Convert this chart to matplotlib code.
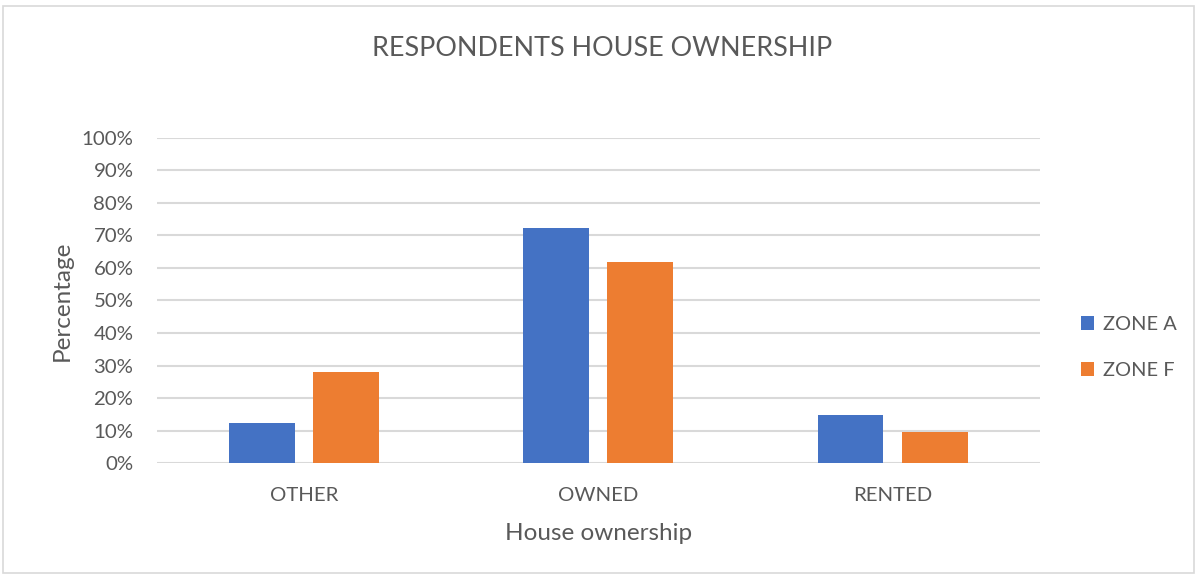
import matplotlib
matplotlib.use("Agg")
import matplotlib.pyplot as plt
import numpy as np
from matplotlib.patches import Rectangle

categories = ["OTHER", "OWNED", "RENTED"]
zone_a = [12.3, 72.4, 14.8]
zone_f = [27.9, 61.8, 9.7]
series_names = ["ZONE A", "ZONE F"]
yticks = [0, 10, 20, 30, 40, 50, 60, 70, 80, 90, 100]

plt.rcParams['font.family'] = ['Lato', 'DejaVu Sans']
txt = '#595959'

fig = plt.figure(figsize=(11.95, 5.76), dpi=100)
ax = fig.add_axes([0.1314, 0.1957, 0.7386, 0.5653])

x = np.arange(len(categories))
w = 0.224
off = 0.143
ax.bar(x - off, zone_a, w, color='#4472C4', label=series_names[0], zorder=3)
ax.bar(x + off, zone_f, w, color='#ED7D31', label=series_names[1], zorder=3)

ax.set_xlim(-0.5, 2.5)
ax.set_ylim(0, 100)
ax.set_yticks(yticks)
ax.set_yticklabels([f"{v}%" for v in yticks], fontsize=14.7, color=txt)
ax.set_xticks(x)
ax.set_xticklabels(categories, fontsize=14.7, color=txt)
ax.tick_params(axis='both', length=0)
ax.tick_params(axis='y', pad=17)
ax.tick_params(axis='x', pad=17)
ax.grid(axis='y', color='#d9d9d9', linewidth=1.5, zorder=0)
for s in ax.spines.values():
    s.set_visible(False)

ax.set_ylabel("Percentage", fontsize=17.5, color=txt, labelpad=6)
ax.set_xlabel("House ownership", fontsize=17.5, color=txt, labelpad=14)
fig.text(0.5035, 0.916, "RESPONDENTS HOUSE OWNERSHIP", ha='center', va='center',
         fontsize=19.4, color=txt)

leg = ax.legend(loc='center left', bbox_to_anchor=(1.027, 0.355), frameon=False,
                fontsize=14.4, handlelength=0.65, handleheight=0.65, labelspacing=1.45,
                handletextpad=0.45)
for t in leg.get_texts():
    t.set_color(txt)

fig.patches.append(Rectangle((3/1195, 3/576), 1 - 4/1195, 1 - 9/576,
                             transform=fig.transFigure, fill=False,
                             edgecolor='#d9d9d9', linewidth=1.2))

fig.savefig("out.png", dpi=100)
